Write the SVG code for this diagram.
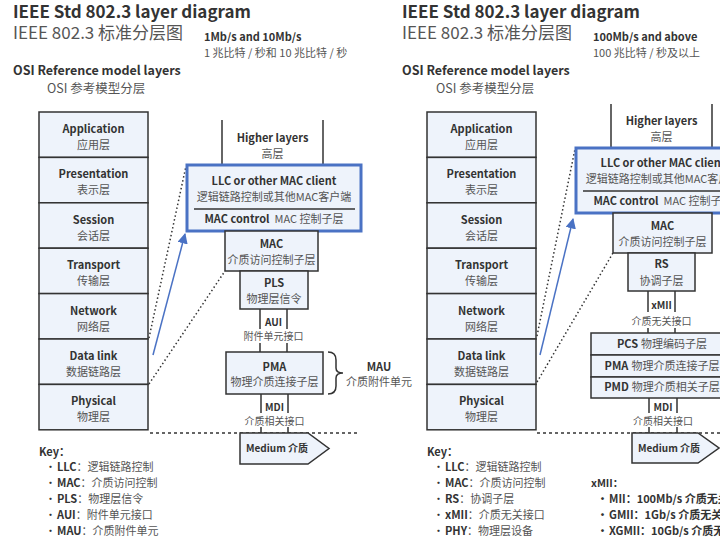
<svg xmlns="http://www.w3.org/2000/svg" width="720" height="540" viewBox="0 0 720 540">
<defs>
<style>
text{font-family:"Noto Sans CJK SC","Noto Sans",sans-serif;fill:#333}
.b{font-weight:bold}
.g{fill:#555}
.c{text-anchor:middle}
.box{fill:#eef3fb;stroke:#333;stroke-width:1.5}
.blue{fill:#eef3fb;stroke:#4a72c4;stroke-width:3}
.dot{stroke:#333;stroke-width:1.5;stroke-dasharray:1.5 2.5;fill:none}
.dash{stroke:#333;stroke-width:1.5;stroke-dasharray:3 3;fill:none}
.ln{stroke:#333;stroke-width:1.5;fill:none}
.arr{stroke:#4a72c4;stroke-width:1.5;fill:none}
.l1{font-size:11px;font-weight:bold}
.l2{font-size:11px;fill:#555}
.k{font-size:11px}
.i1{font-size:10px;font-weight:bold}
.i2{font-size:10px;fill:#555}
</style>
<marker id="ah" viewBox="0 0 10 10" refX="9" refY="5" markerWidth="7" markerHeight="7" orient="auto">
<path d="M0,0 L10,5 L0,10 z" fill="#4a72c4"/>
</marker>
</defs>
<rect width="720" height="540" fill="#fff"/>

<!-- Headers -->
<g id="header-left">
<text x="13" y="18" class="b" font-size="17">IEEE Std 802.3 layer diagram</text>
<text x="13" y="39" class="g" font-size="17">IEEE 802.3 标准分层图</text>
<text x="204" y="41" class="b" font-size="11">1Mb/s and 10Mb/s</text>
<text x="204" y="57" class="g" font-size="11">1 兆比特 / 秒和 10 兆比特 / 秒</text>
<text x="13" y="75" class="b" font-size="12.5">OSI Reference model layers</text>
<text x="47" y="93" class="g" font-size="12.5">OSI 参考模型分层</text>
</g>
<g id="header-right">
<text x="402" y="18" class="b" font-size="17">IEEE Std 802.3 layer diagram</text>
<text x="402" y="39" class="g" font-size="17">IEEE 802.3 标准分层图</text>
<text x="593" y="41" class="b" font-size="11">100Mb/s and above</text>
<text x="593" y="57" class="g" font-size="11">100 兆比特 / 秒及以上</text>
<text x="402" y="75" class="b" font-size="12.5">OSI Reference model layers</text>
<text x="436" y="93" class="g" font-size="12.5">OSI 参考模型分层</text>
</g>

<!-- Connectors -->
<g id="connectors">
<!-- left -->
<line class="ln" x1="222" y1="120" x2="222" y2="165"/>
<line class="ln" x1="323" y1="120" x2="323" y2="165"/>
<line class="ln" x1="260" y1="309" x2="260" y2="329"/>
<line class="ln" x1="287" y1="309" x2="287" y2="329"/>
<line class="ln" x1="260" y1="343" x2="260" y2="352"/>
<line class="ln" x1="287" y1="343" x2="287" y2="352"/>
<line class="ln" x1="261" y1="394" x2="261" y2="413"/>
<line class="ln" x1="288" y1="394" x2="288" y2="413"/>
<line class="ln" x1="261" y1="427" x2="261" y2="433"/>
<line class="ln" x1="288" y1="427" x2="288" y2="433"/>
<line class="dot" x1="149" y1="338" x2="186" y2="166"/>
<line class="dot" x1="149" y1="384" x2="225" y2="271"/>
<line class="dash" x1="150" y1="433" x2="360" y2="433"/>
<line class="arr" x1="153" y1="355" x2="185" y2="234" marker-end="url(#ah)"/>
<!-- right -->
<line class="ln" x1="611" y1="104" x2="611" y2="148"/>
<line class="ln" x1="712" y1="104" x2="712" y2="148"/>
<line class="ln" x1="648" y1="291" x2="648" y2="312"/>
<line class="ln" x1="675" y1="291" x2="675" y2="312"/>
<line class="ln" x1="648" y1="328" x2="648" y2="333"/>
<line class="ln" x1="675" y1="328" x2="675" y2="333"/>
<line class="ln" x1="649" y1="398" x2="649" y2="413"/>
<line class="ln" x1="677" y1="398" x2="677" y2="413"/>
<line class="ln" x1="649" y1="427" x2="649" y2="433"/>
<line class="ln" x1="677" y1="427" x2="677" y2="433"/>
<line class="dot" x1="537" y1="336" x2="575" y2="149"/>
<line class="dot" x1="537" y1="382" x2="613" y2="253"/>
<line class="dash" x1="537" y1="433" x2="720" y2="433"/>
<line class="arr" x1="540" y1="355" x2="573" y2="219" marker-end="url(#ah)"/>
</g>

<!-- Left OSI stack -->
<g id="osi-left">
<rect class="box" x="39" y="112" width="109" height="45.4"/>
<rect class="box" x="39" y="157.4" width="109" height="45.4"/>
<rect class="box" x="39" y="202.8" width="109" height="45.4"/>
<rect class="box" x="39" y="248.2" width="109" height="45.4"/>
<rect class="box" x="39" y="293.6" width="109" height="45.4"/>
<rect class="box" x="39" y="339" width="109" height="45.4"/>
<rect class="box" x="39" y="384.4" width="109" height="45.4"/>
<text x="93.5" y="133" class="c l1">Application</text>
<text x="93.5" y="149" class="c l2">应用层</text>
<text x="93.5" y="178.4" class="c l1">Presentation</text>
<text x="93.5" y="194.4" class="c l2">表示层</text>
<text x="93.5" y="223.8" class="c l1">Session</text>
<text x="93.5" y="239.8" class="c l2">会话层</text>
<text x="93.5" y="269.2" class="c l1">Transport</text>
<text x="93.5" y="285.2" class="c l2">传输层</text>
<text x="93.5" y="314.6" class="c l1">Network</text>
<text x="93.5" y="330.6" class="c l2">网络层</text>
<text x="93.5" y="360" class="c l1">Data link</text>
<text x="93.5" y="376" class="c l2">数据链路层</text>
<text x="93.5" y="405.4" class="c l1">Physical</text>
<text x="93.5" y="421.4" class="c l2">物理层</text>
</g>

<!-- Right OSI stack -->
<g id="osi-right">
<rect class="box" x="427" y="112" width="109" height="45.4"/>
<rect class="box" x="427" y="157.4" width="109" height="45.4"/>
<rect class="box" x="427" y="202.8" width="109" height="45.4"/>
<rect class="box" x="427" y="248.2" width="109" height="45.4"/>
<rect class="box" x="427" y="293.6" width="109" height="45.4"/>
<rect class="box" x="427" y="339" width="109" height="45.4"/>
<rect class="box" x="427" y="384.4" width="109" height="45.4"/>
<text x="481.5" y="133" class="c l1">Application</text>
<text x="481.5" y="149" class="c l2">应用层</text>
<text x="481.5" y="178.4" class="c l1">Presentation</text>
<text x="481.5" y="194.4" class="c l2">表示层</text>
<text x="481.5" y="223.8" class="c l1">Session</text>
<text x="481.5" y="239.8" class="c l2">会话层</text>
<text x="481.5" y="269.2" class="c l1">Transport</text>
<text x="481.5" y="285.2" class="c l2">传输层</text>
<text x="481.5" y="314.6" class="c l1">Network</text>
<text x="481.5" y="330.6" class="c l2">网络层</text>
<text x="481.5" y="360" class="c l1">Data link</text>
<text x="481.5" y="376" class="c l2">数据链路层</text>
<text x="481.5" y="405.4" class="c l1">Physical</text>
<text x="481.5" y="421.4" class="c l2">物理层</text>
</g>

<!-- Left 802.3 stack -->
<g id="higher-left">
<text x="272.5" y="142" class="c l1">Higher layers</text>
<text x="272.5" y="158" class="c l2">高层</text>
</g>
<g id="llc-left">
<rect class="blue" x="187" y="165" width="174" height="66"/>
<line x1="194" y1="209" x2="355" y2="209" stroke="#333" stroke-width="1.5"/>
<text x="274" y="185" class="c l1">LLC or other MAC client</text>
<text x="274" y="201" class="c l2">逻辑链路控制或其他MAC客户端</text>
<text x="274" y="223" class="c" font-size="11"><tspan class="b">MAC control</tspan><tspan class="g" dx="5">MAC 控制子层</tspan></text>
</g>
<g id="mac-left">
<rect class="box" x="225" y="231" width="93" height="40"/>
<text x="271.5" y="248" class="c l1">MAC</text>
<text x="271.5" y="264" class="c l2">介质访问控制子层</text>
</g>
<g id="pls-left">
<rect class="box" x="240" y="271" width="68" height="38"/>
<text x="274" y="287" class="c l1">PLS</text>
<text x="274" y="303" class="c l2">物理层信令</text>
</g>
<g id="aui-left">
<text x="273.5" y="325.5" class="c i1">AUI</text>
<text x="273.5" y="340" class="c i2">附件单元接口</text>
</g>
<g id="pma-left">
<rect class="box" x="226" y="352" width="97" height="42"/>
<text x="274.5" y="371" class="c l1">PMA</text>
<text x="274.5" y="386" class="c l2">物理介质连接子层</text>
</g>
<g id="mau-left">
<path d="M328,352 Q336,352 336,360 L336,368 Q336,373 343,373 Q336,373 336,378 L336,386 Q336,394 328,394" class="ln"/>
<text x="379" y="371" class="c l1">MAU</text>
<text x="379" y="386" class="c l2">介质附件单元</text>
</g>
<g id="mdi-left">
<text x="274.5" y="410.5" class="c i1">MDI</text>
<text x="274.5" y="425" class="c i2">介质相关接口</text>
</g>
<g id="medium-left">
<polygon class="box" points="240,433 308,433 329,448.5 308,464 240,464"/>
<text x="246" y="452" class="b" font-size="10">Medium 介质</text>
</g>

<!-- Right 802.3 stack -->
<g id="higher-right">
<text x="661.5" y="125" class="c l1">Higher layers</text>
<text x="661.5" y="141" class="c l2">高层</text>
</g>
<g id="llc-right">
<rect class="blue" x="576" y="148" width="174" height="65"/>
<line x1="583" y1="191" x2="744" y2="191" stroke="#333" stroke-width="1.5"/>
<text x="663" y="167" class="c l1">LLC or other MAC client</text>
<text x="663" y="183" class="c l2">逻辑链路控制或其他MAC客户端</text>
<text x="663" y="205" class="c" font-size="11"><tspan class="b">MAC control</tspan><tspan class="g" dx="5">MAC 控制子层</tspan></text>
</g>
<g id="mac-right">
<rect class="box" x="613" y="213" width="99" height="40"/>
<text x="662.5" y="230" class="c l1">MAC</text>
<text x="662.5" y="246" class="c l2">介质访问控制子层</text>
</g>
<g id="rs-right">
<rect class="box" x="628" y="253" width="67" height="38"/>
<text x="661.5" y="268" class="c l1">RS</text>
<text x="661.5" y="285" class="c l2">协调子层</text>
</g>
<g id="xmii-right">
<text x="661.5" y="308.5" class="c i1">xMII</text>
<text x="661.5" y="325" class="c i2">介质无关接口</text>
</g>
<g id="phy-right">
<rect class="box" x="591" y="333" width="142" height="22"/>
<rect class="box" x="591" y="355" width="142" height="22"/>
<rect class="box" x="591" y="377" width="142" height="21"/>
<text x="662" y="348" class="c" font-size="11"><tspan class="b">PCS</tspan><tspan class="g" dx="3">物理编码子层</tspan></text>
<text x="662" y="370" class="c" font-size="11"><tspan class="b">PMA</tspan><tspan class="g" dx="3">物理介质连接子层</tspan></text>
<text x="662" y="391" class="c" font-size="11"><tspan class="b">PMD</tspan><tspan class="g" dx="3">物理介质相关子层</tspan></text>
</g>
<g id="mdi-right">
<text x="663" y="410.5" class="c i1">MDI</text>
<text x="663" y="425" class="c i2">介质相关接口</text>
</g>
<g id="medium-right">
<polygon class="box" points="632,433 698,433 719,448 698,463 632,463"/>
<text x="638" y="452" class="b" font-size="10">Medium 介质</text>
</g>

<!-- Keys -->
<g id="key-left">
<text x="39" y="456" class="b" font-size="11">Key：</text>
<text x="45" y="471" class="k">•<tspan x="57" class="b">LLC</tspan><tspan class="g">：逻辑链路控制</tspan></text>
<text x="45" y="487" class="k">•<tspan x="57" class="b">MAC</tspan><tspan class="g">：介质访问控制</tspan></text>
<text x="45" y="503" class="k">•<tspan x="57" class="b">PLS</tspan><tspan class="g">：物理层信令</tspan></text>
<text x="45" y="519" class="k">•<tspan x="57" class="b">AUI</tspan><tspan class="g">：附件单元接口</tspan></text>
<text x="45" y="535" class="k">•<tspan x="57" class="b">MAU</tspan><tspan class="g">：介质附件单元</tspan></text>
</g>
<g id="key-right">
<text x="427" y="456" class="b" font-size="11">Key：</text>
<text x="433" y="471" class="k">•<tspan x="445" class="b">LLC</tspan><tspan class="g">：逻辑链路控制</tspan></text>
<text x="433" y="487" class="k">•<tspan x="445" class="b">MAC</tspan><tspan class="g">：介质访问控制</tspan></text>
<text x="433" y="503" class="k">•<tspan x="445" class="b">RS</tspan><tspan class="g">：协调子层</tspan></text>
<text x="433" y="519" class="k">•<tspan x="445" class="b">xMII</tspan><tspan class="g">：介质无关接口</tspan></text>
<text x="433" y="535" class="k">•<tspan x="445" class="b">PHY</tspan><tspan class="g">：物理层设备</tspan></text>
<text x="591" y="487" class="b" font-size="10.5">xMII：</text>
<text x="597" y="503" class="k b">•<tspan x="609">MII：100Mb/s 介质无关接口</tspan></text>
<text x="597" y="519" class="k b">•<tspan x="609">GMII：1Gb/s 介质无关接口</tspan></text>
<text x="597" y="535" class="k b">•<tspan x="609">XGMII：10Gb/s 介质无关接口</tspan></text>
</g>
</svg>
